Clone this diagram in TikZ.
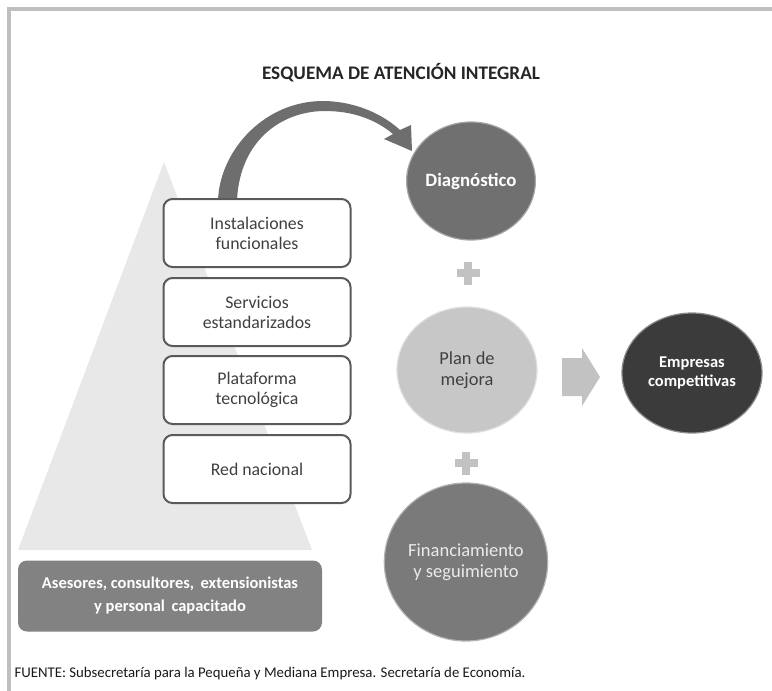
\documentclass[tikz,border=0pt]{standalone}
\usepackage{fontspec}
\setmainfont{Carlito}
\usetikzlibrary{shapes.geometric}
\definecolor{marco}{HTML}{BFBFBF}
\definecolor{piramide}{HTML}{E8E8E8}
\definecolor{borde}{HTML}{5A5A5A}
\definecolor{letra}{HTML}{404040}
\definecolor{flecha}{HTML}{6E6E6E}
\definecolor{suave}{HTML}{C2C2C2}

\begin{document}
\begin{tikzpicture}[x=1pt,y=-1pt,
	pilar/.style={draw=borde, line width=2pt, fill=white, rounded corners=9pt, minimum width=187pt, minimum height=68pt, align=center, text=letra, font=\fontsize{17.8}{20}\selectfont},
	esfera/.style={ellipse, inner sep=0pt, align=center, line width=1.2pt},
	suma/.style={fill=suave}]

	\useasboundingbox (0,0) rectangle (772,691);
	\draw[marco, line width=4pt] (9,691) -- (9,9) -- (772,9);

	\node[font=\bfseries\fontsize{19.2}{21}\selectfont, text=black!85] (titulo) at (401,73) {ESQUEMA DE ATENCIÓN INTEGRAL};

	\fill[piramide] (164,162) -- (312,550) -- (18,550) -- cycle;

	\fill[flecha] (218,200) .. controls (220,150) and (265,100) .. (325,101) .. controls (360,102) and (386,117) .. (400,130) -- (411,125) -- (412,151) -- (384,139) -- (393,134) .. controls (375,119) and (352,111) .. (325,111) .. controls (282,111) and (240,140) .. (237,200) -- cycle;

	\node[pilar] (inst) at (257,233) {Instalaciones\\funcionales};
	\node[pilar] (serv) at (257,312) {Servicios\\estandarizados};
	\node[pilar] (plat) at (257,390) {Plataforma\\tecnológica};
	\node[pilar] (red) at (257,469) {Red nacional};

	\node[fill=black!49, rounded corners=9pt, minimum width=304pt, minimum height=71pt, align=center, text=white, font=\bfseries\fontsize{16.5}{23}\selectfont] (asesores) at (170,596) {Asesores, consultores,\, extensionistas\\y personal\, capacitado};

	\node[esfera, fill=black!56, draw=black!35, minimum width=118pt, minimum height=118pt, text=white, font=\bfseries\fontsize{18.8}{21}\selectfont] (diag) at (471,181) {Diagnóstico};

	\fill[suma] (456.5,269) rectangle (479.5,277);
	\fill[suma] (464,261.5) rectangle (472,284.5);

	\node[esfera, fill=black!22, draw=black!12, minimum width=140pt, minimum height=126pt, text=letra, font=\fontsize{18.4}{21}\selectfont] (plan) at (467,370) {Plan de\\mejora};

	\fill[suave] (562,358) -- (582,358) -- (582,348) -- (600,377) -- (582,406) -- (582,396) -- (562,396) -- cycle;

	\node[esfera, fill=black!77, draw=black!45, minimum width=140pt, minimum height=120pt, text=white, font=\bfseries\fontsize{16.5}{19}\selectfont] (empresas) at (692,373) {Empresas\\competitivas};

	\fill[suma] (454.5,459) rectangle (477.5,467);
	\fill[suma] (462,451.5) rectangle (470,474.5);

	\node[esfera, fill=black!52, draw=black!30, minimum width=162pt, minimum height=158pt, text=white!92!black, font=\fontsize{18.5}{21}\selectfont] (finan) at (466,562) {Financiamiento\\y seguimiento};

	\node[anchor=west, text=black!90, font=\fontsize{14.8}{17}\selectfont] (fuente) at (11,674) {FUENTE: Subsecretaría para la Pequeña y Mediana Empresa. Secretaría de Economía.};
\end{tikzpicture}
\end{document}
